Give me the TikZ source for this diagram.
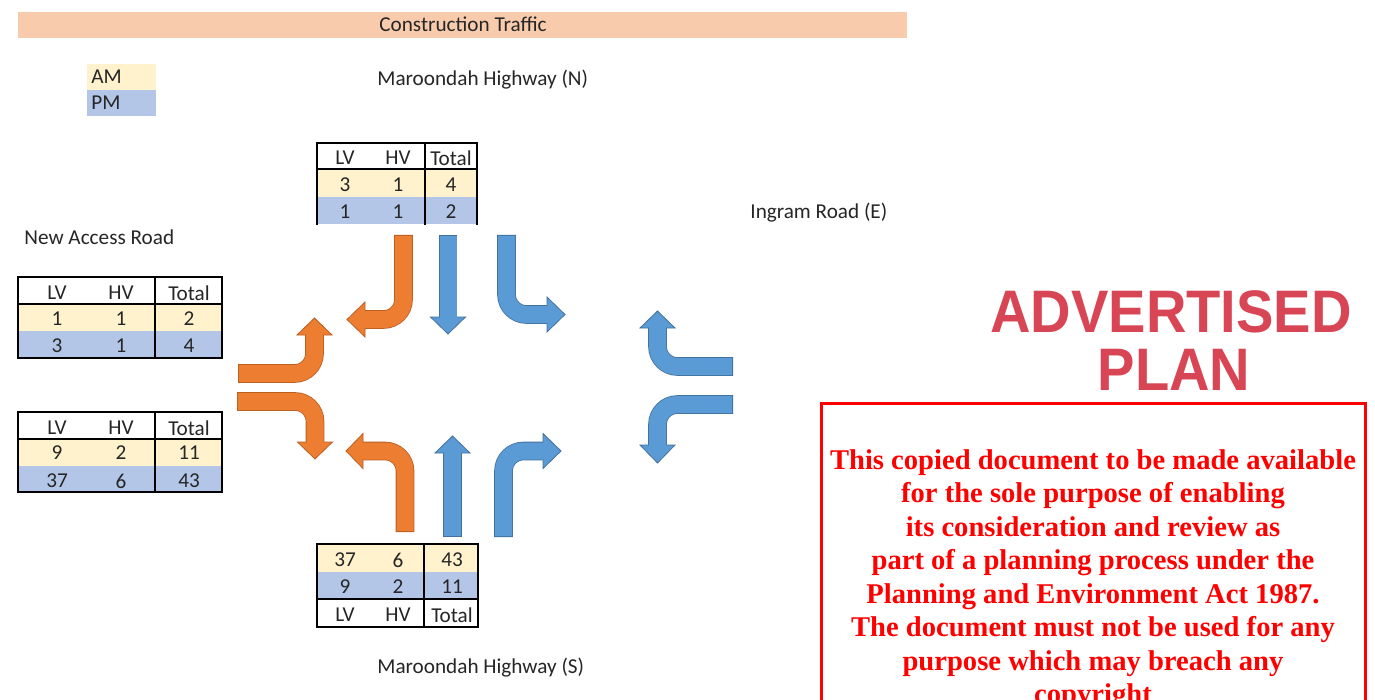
\documentclass[tikz,border=0pt]{standalone}
\usepackage{fontspec}
\setmainfont{Carlito}
\newfontfamily\stampfont{Liberation Sans}
\newfontfamily\noticefont{Liberation Serif}

\definecolor{ink}{HTML}{262626}
\definecolor{bandfill}{HTML}{F8CBAD}
\definecolor{amfill}{HTML}{FFF2CC}
\definecolor{pmfill}{HTML}{B4C6E7}
\definecolor{orangefill}{HTML}{ED7D31}
\definecolor{orangeedge}{HTML}{B85F22}
\definecolor{bluefill}{HTML}{5B9BD5}
\definecolor{blueedge}{HTML}{41719C}
\definecolor{stampred}{RGB}{216,70,86}
\definecolor{noticered}{HTML}{FF0000}

% one turning-movement arrow: #1 body colour, #2 edge colour,
% #3 centre line of the shaft, #4 the three corners of the head
\newcommand\flowarrow[4]{%
  \draw[shaftedge,draw=#2] #3;
  \filldraw[headstyle,fill=#1,draw=#2] #4 -- cycle;
  \draw[shaftbody,draw=#1] #3;
}

\begin{document}
\begin{tikzpicture}[x=0.5pt,y=-0.5pt,
  lbl/.style={inner sep=0pt,text=ink,font=\fontsize{10.6}{12}\selectfont},
  cell/.style={lbl},
  grid/.style={draw=black,line width=1.3pt,line cap=rect},
  shaftedge/.style={line width=9.3pt,rounded corners=10pt},
  shaftbody/.style={line width=8.5pt,rounded corners=10pt,shorten <=0.4pt},
  headstyle/.style={line width=0.4pt,line join=miter},
  stamp/.style={inner sep=0pt,text=stampred,
    font=\stampfont\bfseries\fontsize{30}{30}\selectfont,xscale=0.935},
  notice/.style={inner sep=0pt,text=noticered,align=center,
    font=\noticefont\bfseries\fontsize{14.3}{16.75}\selectfont}]

\useasboundingbox (0,0) rectangle (1375,700);
\fill[white] (0,0) rectangle (1375,700);
\clip (0,0) rectangle (1375,700);

% title band
\fill[bandfill] (18,12) rectangle (907,38);
\node[lbl,anchor=base] (title) at (463,32) {Construction Traffic};

% legend
\fill[amfill] (87,64) rectangle (156,90);
\fill[pmfill] (87,90) rectangle (156,116);
\node[lbl,anchor=base west] (legendam) at (91,84) {AM};
\node[lbl,anchor=base west] (legendpm) at (91,110) {PM};

% approach names
\node[lbl,anchor=base west] (roadn) at (377,86) {Maroondah Highway (N)};
\node[lbl,anchor=base west] (roade) at (750,219) {Ingram Road (E)};
\node[lbl,anchor=base west] (roadw) at (24,245) {New Access Road};
\node[lbl,anchor=base west] (roads) at (377,673) {Maroondah Highway (S)};

% ---- north table
\fill[amfill] (317,169) rectangle (477,197);
\fill[pmfill] (317,197) rectangle (477,224);
\draw[grid] (317,224) -- (317,143) -- (477,143) -- (477,224);
\draw[grid] (317,169) -- (477,169);
\draw[grid] (425,143) -- (425,224);
\foreach \t/\x/\y [count=\i] in {LV/345/158,HV/398/158,Total/451/158,
    3/345/185,1/398/185,4/451/185,1/345/212,1/398/212,2/451/212}
  \node[cell] (n\i) at (\x,\y) {\t};

% ---- west table, entering
\fill[amfill] (18,304) rectangle (222,331);
\fill[pmfill] (18,331) rectangle (222,358);
\draw[grid] (18,277) rectangle (222,358);
\draw[grid] (18,304) -- (222,304);
\draw[grid] (155,277) -- (155,358);
\foreach \t/\x/\y [count=\i] in {LV/57/293,HV/121/293,Total/189/293,
    1/57/319,1/121/319,2/189/319,3/57/346,1/121/346,4/189/346}
  \node[cell] (wa\i) at (\x,\y) {\t};

% ---- west table, leaving
\fill[amfill] (18,439) rectangle (222,466);
\fill[pmfill] (18,466) rectangle (222,492);
\draw[grid] (18,412) rectangle (222,492);
\draw[grid] (18,439) -- (222,439);
\draw[grid] (155,412) -- (155,492);
\foreach \t/\x/\y [count=\i] in {LV/57/428,HV/121/428,Total/189/428,
    9/57/453,2/121/453,11/189/453,37/57/481,6/121/481,43/189/481}
  \node[cell] (wb\i) at (\x,\y) {\t};

% ---- south table
\fill[amfill] (317,544) rectangle (478,572);
\fill[pmfill] (317,572) rectangle (478,599);
\draw[grid] (317,544) rectangle (478,627);
\draw[grid] (317,599) -- (478,599);
\draw[grid] (424,544) -- (424,627);
\foreach \t/\x/\y [count=\i] in {37/345/560,6/398/560,43/452/560,
    9/345/587,2/398/587,11/452/587,LV/345/615,HV/398/615,Total/452/615}
  \node[cell] (s\i) at (\x,\y) {\t};

% ---- turning movements, north approach
\flowarrow{orangefill}{orangeedge}
  {(403.5,235) -- (403.5,319.5) -- (364,319.5)}
  {(347,319.5) -- (365,302) -- (365,337)}
\flowarrow{bluefill}{blueedge}
  {(448,235) -- (448,318)}
  {(448,334) -- (430.5,317) -- (465.5,317)}
\flowarrow{bluefill}{blueedge}
  {(506.5,235) -- (506.5,314.5) -- (548,314.5)}
  {(565,314.5) -- (547,297) -- (547,332)}

% west approach
\flowarrow{orangefill}{orangeedge}
  {(238,373.5) -- (314.5,373.5) -- (314.5,334)}
  {(314.5,318) -- (297,335) -- (332,335)}
\flowarrow{orangefill}{orangeedge}
  {(237,401.5) -- (315,401.5) -- (315,443)}
  {(315,459) -- (297.5,442) -- (332.5,442)}

% south approach
\flowarrow{orangefill}{orangeedge}
  {(405,532) -- (405,451) -- (362,451)}
  {(346,451) -- (363,433.5) -- (363,468.5)}
\flowarrow{bluefill}{blueedge}
  {(452.5,537) -- (452.5,452)}
  {(452.5,436) -- (435,453) -- (470,453)}
\flowarrow{bluefill}{blueedge}
  {(503.5,537) -- (503.5,451) -- (544,451)}
  {(561,451) -- (543,433.5) -- (543,468.5)}

% east approach
\flowarrow{bluefill}{blueedge}
  {(733,366.5) -- (657.5,366.5) -- (657.5,327)}
  {(657.5,311) -- (640,328) -- (675,328)}
\flowarrow{bluefill}{blueedge}
  {(733,404.5) -- (657.5,404.5) -- (657.5,446)}
  {(657.5,463) -- (640,445) -- (675,445)}

% stamp
\node[stamp] (stamp1) at (1171,311.5) {ADVERTISED};
\node[stamp] (stamp2) at (1174,370) {PLAN};

% notice (anchored on the baseline of its last line)
\draw[noticered,line width=1.5pt] (821,403) rectangle (1365,760);
\node[notice,anchor=base] (notice) at (1093,703.5)
  {This copied document to be made available\\
   for the sole purpose of enabling\\
   its consideration and review as\\
   part of a planning process under the\\
   Planning and Environment Act 1987.\\
   The document must not be used for any\\
   purpose which may breach any\\
   copyright};
\end{tikzpicture}
\end{document}
